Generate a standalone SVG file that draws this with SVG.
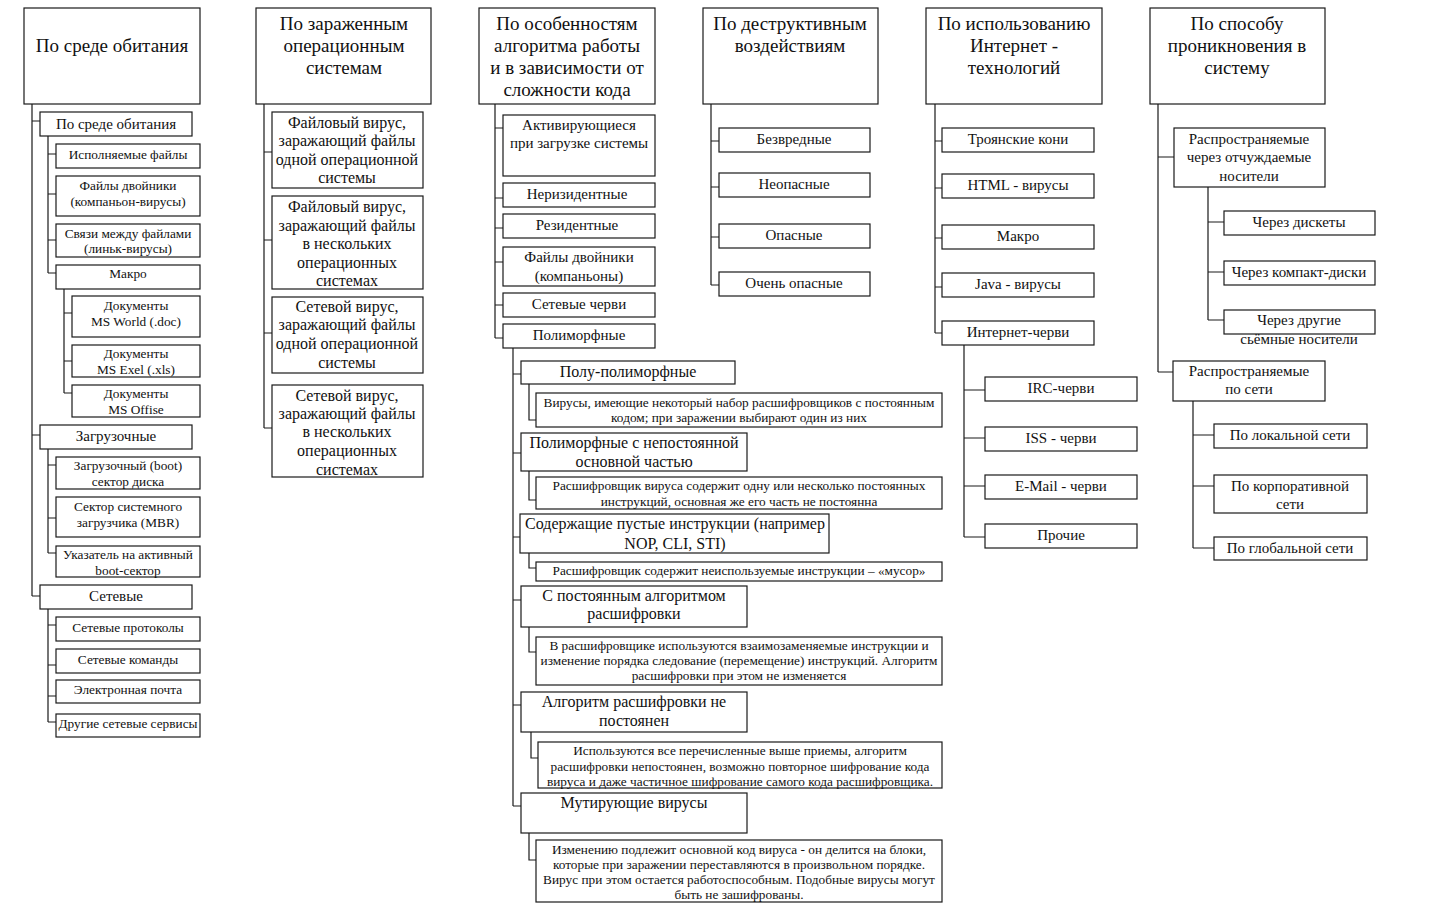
<svg xmlns="http://www.w3.org/2000/svg" width="1430" height="907" viewBox="0 0 1430 907">
<style>
rect{fill:#fff;stroke:#1a1a1a;stroke-width:1.2}
text{font-family:"Liberation Serif","Times New Roman",serif;fill:#111;text-anchor:middle}
.h{font-size:19px}
.m{font-size:15px}
.l{font-size:16px}
.s{font-size:13.3px}
#conn path{fill:none;stroke:#1a1a1a;stroke-width:1.2}
</style>
<rect x="0" y="0" width="1430" height="907" style="fill:#fff;stroke:none"/>
<g id="conn">
<path d="M32 104V596M32 121H40M32 435H40M32 596H40"/>
<path d="M48 136V273M48 154H56M48 194H56M48 240H56M48 273H56"/>
<path d="M64 289V393M64 313H72M64 361H72M64 393H72"/>
<path d="M48 449V553M48 465H56M48 518H56M48 553H56"/>
<path d="M48 609V722M48 625H56M48 665H56M48 696H56M48 722H56"/>
<path d="M264 104V428M264 152H272M264 240H272M264 333H272M264 428H272"/>
<path d="M495 104V338M495 128H503M495 198H503M495 228H503M495 262H503M495 305H503M495 338H503"/>
<path d="M513 348V806M513 374H521M513 453H521M513 537H520M513 600H521M513 705H521M513 806H521"/>
<path d="M529 384V420H536M529 471V500H536M529 553V568H536M529 627V652H536M531 732V758H538M529 833V860H536"/>
<path d="M711 104V285M711 141H719M711 187H719M711 237H719M711 285H719"/>
<path d="M935 104V333M935 141H942M935 188H942M935 238H942M935 287H942M935 333H942"/>
<path d="M964 345V537M964 390H985M964 438H985M964 486H985M964 537H985"/>
<path d="M1158 104V372M1158 157H1174M1158 372H1173"/>
<path d="M1208 187V320M1208 222H1224M1208 272H1224M1208 320H1224"/>
<path d="M1193 401V548M1193 435H1214M1193 486H1214M1193 548H1214"/>
</g>

<g id="h1"><rect x="24" y="8" width="176" height="96"/><text class="h" x="112" y="52">По среде обитания</text></g>
<g id="h2"><rect x="256" y="8" width="175" height="96"/><text class="h" x="344" y="30">По зараженным</text><text class="h" x="344" y="52">операционным</text><text class="h" x="344" y="74">системам</text></g>
<g id="h3"><rect x="479" y="8" width="176" height="96"/><text class="h" x="567" y="30">По особенностям</text><text class="h" x="567" y="52">алгоритма работы</text><text class="h" x="567" y="74">и в зависимости от</text><text class="h" x="567" y="96">сложности кода</text></g>
<g id="h4"><rect x="703" y="8" width="175" height="96"/><text class="h" x="790" y="30">По деструктивным</text><text class="h" x="790" y="52">воздействиям</text></g>
<g id="h5"><rect x="926" y="8" width="176" height="96"/><text class="h" x="1014" y="30">По использованию</text><text class="h" x="1014" y="52">Интернет -</text><text class="h" x="1014" y="74">технологий</text></g>
<g id="h6"><rect x="1150" y="8" width="175" height="96"/><text class="h" x="1237" y="30">По способу</text><text class="h" x="1237" y="52">проникновения в</text><text class="h" x="1237" y="74">систему</text></g>

<g id="c1a"><rect x="40" y="112" width="152" height="24"/><text class="m" x="116" y="129">По среде обитания</text></g>
<g id="c1a1"><rect x="56" y="144" width="144" height="24"/><text class="s" x="128" y="159">Исполняемые файлы</text></g>
<g id="c1a2"><rect x="56" y="176" width="144" height="40"/><text class="s" x="128" y="190">Файлы двойники</text><text class="s" x="128" y="206">(компаньон-вирусы)</text></g>
<g id="c1a3"><rect x="56" y="224" width="144" height="33"/><text class="s" x="128" y="238">Связи между файлами</text><text class="s" x="128" y="253">(линьк-вирусы)</text></g>
<g id="c1a4"><rect x="56" y="265" width="144" height="24"/><text class="s" x="128" y="278">Макро</text></g>
<g id="c1a4a"><rect x="72" y="296" width="128" height="41"/><text class="s" x="136" y="310">Документы</text><text class="s" x="136" y="326">MS World (.doc)</text></g>
<g id="c1a4b"><rect x="72" y="345" width="128" height="32"/><text class="s" x="136" y="358">Документы</text><text class="s" x="136" y="374">MS Exel (.xls)</text></g>
<g id="c1a4c"><rect x="72" y="385" width="128" height="32"/><text class="s" x="136" y="398">Документы</text><text class="s" x="136" y="414">MS Offise</text></g>
<g id="c1b"><rect x="40" y="425" width="152" height="24"/><text class="m" x="116" y="441">Загрузочные</text></g>
<g id="c1b1"><rect x="56" y="457" width="144" height="32"/><text class="s" x="128" y="470">Загрузочный (boot)</text><text class="s" x="128" y="486">сектор диска</text></g>
<g id="c1b2"><rect x="56" y="497" width="144" height="40"/><text class="s" x="128" y="511">Сектор системного</text><text class="s" x="128" y="527">загрузчика (MBR)</text></g>
<g id="c1b3"><rect x="56" y="546" width="144" height="31"/><text class="s" x="128" y="559">Указатель на активный</text><text class="s" x="128" y="575">boot-сектор</text></g>
<g id="c1c"><rect x="40" y="585" width="152" height="24"/><text class="m" x="116" y="601">Сетевые</text></g>
<g id="c1c1"><rect x="56" y="617" width="144" height="24"/><text class="s" x="128" y="632">Сетевые протоколы</text></g>
<g id="c1c2"><rect x="56" y="649" width="144" height="24"/><text class="s" x="128" y="664">Сетевые команды</text></g>
<g id="c1c3"><rect x="56" y="680" width="144" height="23"/><text class="s" x="128" y="694">Электронная почта</text></g>
<g id="c1c4"><rect x="56" y="714" width="144" height="23"/><text class="s" x="128" y="728">Другие сетевые сервисы</text></g>

<g id="c2a"><rect x="272" y="112" width="151" height="76"/><text class="l" x="347" y="128">Файловый вирус,</text><text class="l" x="347" y="146">заражающий файлы</text><text class="l" x="347" y="165">одной операционной</text><text class="l" x="347" y="183">системы</text></g>
<g id="c2b"><rect x="272" y="196" width="151" height="93"/><text class="l" x="347" y="212">Файловый вирус,</text><text class="l" x="347" y="231">заражающий файлы</text><text class="l" x="347" y="249">в нескольких</text><text class="l" x="347" y="268">операционных</text><text class="l" x="347" y="286">системах</text></g>
<g id="c2c"><rect x="272" y="297" width="151" height="76"/><text class="l" x="347" y="312">Сетевой вирус,</text><text class="l" x="347" y="330">заражающий файлы</text><text class="l" x="347" y="349">одной операционной</text><text class="l" x="347" y="368">системы</text></g>
<g id="c2d"><rect x="272" y="385" width="151" height="92"/><text class="l" x="347" y="401">Сетевой вирус,</text><text class="l" x="347" y="419">заражающий файлы</text><text class="l" x="347" y="437">в нескольких</text><text class="l" x="347" y="456">операционных</text><text class="l" x="347" y="475">системах</text></g>

<g id="c3a"><rect x="503" y="115" width="152" height="61"/><text class="m" x="579" y="130">Активирующиеся</text><text class="m" x="579" y="148">при загрузке системы</text></g>
<g id="c3b"><rect x="503" y="183" width="152" height="24"/><text class="m" x="577" y="199">Неризидентные</text></g>
<g id="c3c"><rect x="503" y="214" width="152" height="24"/><text class="m" x="577" y="230">Резидентные</text></g>
<g id="c3d"><rect x="503" y="247" width="152" height="39"/><text class="m" x="579" y="262">Файлы двойники</text><text class="m" x="579" y="281">(компаньоны)</text></g>
<g id="c3e"><rect x="503" y="293" width="152" height="24"/><text class="m" x="579" y="309">Сетевые черви</text></g>
<g id="c3f"><rect x="503" y="324" width="152" height="24"/><text class="m" x="579" y="340">Полиморфные</text></g>

<g id="p1"><rect x="521" y="361" width="214" height="23"/><text class="l" x="628" y="377">Полу-полиморфные</text></g>
<g id="p1d"><rect x="536" y="393" width="406" height="34"/><text class="s" x="739" y="407">Вирусы, имеющие некоторый набор расшифровщиков с постоянным</text><text class="s" x="739" y="422">кодом; при заражении выбирают один из них</text></g>
<g id="p2"><rect x="521" y="433" width="226" height="38"/><text class="l" x="634" y="448">Полиморфные с непостоянной</text><text class="l" x="634" y="467">основной частью</text></g>
<g id="p2d"><rect x="536" y="477" width="406" height="32"/><text class="s" x="739" y="490">Расшифровщик вируса содержит одну или несколько постоянных</text><text class="s" x="739" y="506">инструкций, основная же его часть не постоянна</text></g>
<g id="p3"><rect x="520" y="514" width="309" height="39"/><text class="l" x="675" y="529">Содержащие пустые инструкции (например</text><text class="l" x="675" y="549">NOP, CLI, STI)</text></g>
<g id="p3d"><rect x="536" y="562" width="406" height="19"/><text class="s" x="739" y="575">Расшифровщик содержит неиспользуемые инструкции – «мусор»</text></g>
<g id="p4"><rect x="521" y="586" width="226" height="41"/><text class="l" x="634" y="601">С постоянным алгоритмом</text><text class="l" x="634" y="619">расшифровки</text></g>
<g id="p4d"><rect x="536" y="637" width="406" height="48"/><text class="s" x="739" y="650">В расшифровщике используются взаимозаменяемые инструкции и</text><text class="s" x="739" y="665">изменение порядка следование (перемещение) инструкций. Алгоритм</text><text class="s" x="739" y="680">расшифровки при этом не изменяется</text></g>
<g id="p5"><rect x="521" y="692" width="226" height="40"/><text class="l" x="634" y="707">Алгоритм расшифровки не</text><text class="l" x="634" y="726">постоянен</text></g>
<g id="p5d"><rect x="538" y="742" width="404" height="46"/><text class="s" x="740" y="755">Используются все перечисленные выше приемы, алгоритм</text><text class="s" x="740" y="771">расшифровки непостоянен, возможно повторное шифрование кода</text><text class="s" x="740" y="786">вируса и даже частичное шифрование самого кода расшифровщика.</text></g>
<g id="p6"><rect x="521" y="793" width="226" height="40"/><text class="l" x="634" y="808">Мутирующие вирусы</text></g>
<g id="p6d"><rect x="536" y="840" width="406" height="62"/><text class="s" x="739" y="854">Изменению подлежит основной код вируса - он делится на блоки,</text><text class="s" x="739" y="869">которые при заражении переставляются в произвольном порядке.</text><text class="s" x="739" y="884">Вирус при этом остается работоспособным. Подобные вирусы могут</text><text class="s" x="739" y="899">быть не зашифрованы.</text></g>

<g id="c4a"><rect x="719" y="128" width="151" height="24"/><text class="m" x="794" y="144">Безвредные</text></g>
<g id="c4b"><rect x="719" y="173" width="151" height="24"/><text class="m" x="794" y="189">Неопасные</text></g>
<g id="c4c"><rect x="719" y="224" width="151" height="24"/><text class="m" x="794" y="240">Опасные</text></g>
<g id="c4d"><rect x="719" y="272" width="151" height="24"/><text class="m" x="794" y="288">Очень опасные</text></g>

<g id="c5a"><rect x="942" y="128" width="152" height="24"/><text class="m" x="1018" y="144">Троянские кони</text></g>
<g id="c5b"><rect x="942" y="174" width="152" height="24"/><text class="m" x="1018" y="190">HTML - вирусы</text></g>
<g id="c5c"><rect x="942" y="225" width="152" height="24"/><text class="m" x="1018" y="241">Макро</text></g>
<g id="c5d"><rect x="942" y="273" width="152" height="24"/><text class="m" x="1018" y="289">Java - вирусы</text></g>
<g id="c5e"><rect x="942" y="321" width="152" height="24"/><text class="m" x="1018" y="337">Интернет-черви</text></g>
<g id="c5e1"><rect x="985" y="377" width="152" height="24"/><text class="m" x="1061" y="393">IRC-черви</text></g>
<g id="c5e2"><rect x="985" y="427" width="152" height="24"/><text class="m" x="1061" y="443">ISS - черви</text></g>
<g id="c5e3"><rect x="985" y="475" width="152" height="24"/><text class="m" x="1061" y="491">E-Mail - черви</text></g>
<g id="c5e4"><rect x="985" y="524" width="152" height="24"/><text class="m" x="1061" y="540">Прочие</text></g>

<g id="c6a"><rect x="1174" y="128" width="151" height="59"/><text class="m" x="1249" y="144">Распространяемые</text><text class="m" x="1249" y="162">через отчуждаемые</text><text class="m" x="1249" y="181">носители</text></g>
<g id="c6a1"><rect x="1224" y="211" width="151" height="24"/><text class="m" x="1299" y="227">Через дискеты</text></g>
<g id="c6a2"><rect x="1224" y="261" width="151" height="24"/><text class="m" x="1299" y="277">Через компакт-диски</text></g>
<g id="c6a3"><rect x="1224" y="310" width="151" height="24"/><text class="m" x="1299" y="325">Через другие</text><text class="m" x="1299" y="344">сьёмные носители</text></g>
<g id="c6b"><rect x="1173" y="361" width="152" height="40"/><text class="m" x="1249" y="376">Распространяемые</text><text class="m" x="1249" y="394">по сети</text></g>
<g id="c6b1"><rect x="1214" y="424" width="153" height="24"/><text class="m" x="1290" y="440">По локальной сети</text></g>
<g id="c6b2"><rect x="1214" y="475" width="153" height="38"/><text class="m" x="1290" y="491">По корпоративной</text><text class="m" x="1290" y="509">сети</text></g>
<g id="c6b3"><rect x="1214" y="537" width="153" height="23"/><text class="m" x="1290" y="553">По глобальной сети</text></g>
</svg>
